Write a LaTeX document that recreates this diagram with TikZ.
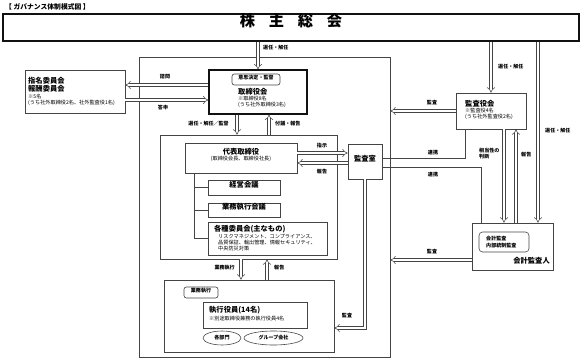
\documentclass[tikz,border=0pt]{standalone}
\usepackage{fontspec}
\setmainfont{Noto Sans CJK JP}
\usetikzlibrary{positioning,arrows.meta,fit,shapes.geometric}
\definecolor{Tinta}{HTML}{444444}
\definecolor{Marco}{HTML}{111111}
\newcommand{\letragrande}{\fontsize{6.2}{7.2}\selectfont\bfseries}
\newcommand{\letrachica}{\fontsize{4.4}{5.3}\selectfont}
\tikzset{
  caja/.style={draw=Tinta,line width=0.5pt,inner sep=0pt},
  flecha/.style={draw=Tinta,line width=0.45pt,double=white,double distance=2pt,-{Implies}},
  linea/.style={draw=Tinta,line width=0.5pt},
  rotulo/.style={font=\fontsize{4.3}{5.3}\selectfont\bfseries,inner sep=0pt},
  titulo/.style={font=\letragrande,inner sep=0pt},
  nota/.style={font=\letrachica,inner sep=0pt,align=left},
}
\begin{document}
\begin{tikzpicture}[x=0.03cm,y=-0.03cm]
  \useasboundingbox (0,0) rectangle (582,358);
  \node[rotulo,font=\fontsize{5.8}{7}\selectfont\bfseries,anchor=west] (cabecera) at (5,7) {【 ガバナンス体制模式図 】};
  \node[caja,draw=Marco,line width=1.1pt,fit={(3,14) (579,41)},
    font=\fontsize{13}{14}\selectfont\bfseries] (kabunushi) {株\hspace{0.9em}主\hspace{0.9em}総\hspace{0.9em}会};

  % area de gestion
  \node[caja,fit={(139,57) (390,357)}] (kanri) {};
  \node[caja,draw=Marco,line width=1pt,fit={(209,70) (307,114)}] (torishimari) {};
  \node[caja,rounded corners=2pt,fit={(232,74) (280,85)},rotulo] (ishi) {意思決定・監督};
  \node[titulo,anchor=west] at (238,92) {取締役会};
  \node[nota,anchor=north west] at (238,96) {※取締役8名\\(うち社外取締役3名)};

  \node[caja,fit={(160,135) (337,259)}] (daihyogrp) {};
  \node[caja,fit={(185,143) (297,173)},align=center,font=\letrachica] (daihyo) {{\letragrande 代表取締役}\\{\letrachica (取締役会長、取締役社長)}};
  \node[caja,fit={(208,180) (280,195)},titulo] (keiei) {経営会議};
  \node[caja,fit={(208,203) (280,217)},titulo] (gyomu) {業務執行会議};
  \node[caja,fit={(208,222) (327,255)}] (iinkai) {};
  \node[titulo,anchor=west] at (214,229) {各種委員会(主なもの)};
  \node[nota,anchor=north west] at (218,234) {リスクマネジメント、コンプライアンス、\\品質保証、輸出管理、情報セキュリティ、\\中央防災対策};
  \node[caja,fit={(348,144) (382,179)},titulo] (kansashitsu) {監査室};

  \node[caja,fit={(164,280) (334,352)}] (shikko) {};
  \node[caja,rounded corners=2pt,fit={(184,287) (218,298)},rotulo] (gyomutag) {業務執行};
  \node[caja,fit={(203,302) (307,328)}] (yakuin) {};
  \node[titulo,anchor=west] at (209,310) {執行役員(14名)};
  \node[nota,anchor=west] at (209,319) {※別途取締役兼務の執行役員4名};
  \node[caja,ellipse,minimum width=1.14cm,minimum height=0.42cm,rotulo] (bumon) at (222,338) {各部門};
  \node[caja,ellipse,minimum width=1.77cm,minimum height=0.42cm,rotulo] (group) at (273.5,338) {グループ会社};

  % comites y auditores
  \node[caja,fit={(25,70) (125,113)}] (shimei) {};
  \node[titulo,anchor=north west,align=left] at (28,77) {指名委員会\\報酬委員会};
  \node[nota,anchor=north west] at (28,94) {※5名\\(うち社外取締役2名、社外監査役1名)};
  \node[caja,fit={(456,93) (526,129)}] (kansayaku) {};
  \node[titulo,anchor=west] at (465,104) {監査役会};
  \node[nota,anchor=north west] at (465,108) {※監査役4名\\(うち社外監査役2名)};
  \node[caja,fit={(472,223) (553,270)}] (kaikei) {};
  \node[caja,rounded corners=3pt,fit={(479,232) (529,252)}] (kaikeinaiyo) {};
  \node[rotulo,anchor=west,align=left] at (486,242) {会計監査\\内部統制監査};
  \node[titulo,anchor=east] at (550,261) {会計監査人};

  % arbol del representante
  \draw[linea] ([xshift=0.3cm]daihyo.south west) |- (keiei.west);
  \draw[linea] ([xshift=0.3cm]daihyo.south west) |- (gyomu.west);
  \draw[linea] ([xshift=0.3cm]daihyo.south west) |- (iinkai.west);

  % flechas
  \draw[flecha] (kabunushi.south -| torishimari.north) -- (torishimari.north);
  \node[rotulo,anchor=west] at (263,48) {選任・解任};
  \draw[flecha] ([yshift=0.21cm]torishimari.west) -- ([yshift=0.21cm]torishimari.west -| shimei.east);
  \node[rotulo] at (165,77) {諮問};
  \draw[flecha] ([yshift=-0.255cm]shimei.east) -- ([yshift=-0.255cm]shimei.east -| torishimari.west);
  \node[rotulo] at (163,108) {答申};
  \draw[flecha] ([xshift=-0.63cm]torishimari.south) -- ([xshift=-0.63cm]torishimari.south |- daihyogrp.north);
  \node[rotulo,anchor=east] at (229,124) {選任・解任／監督};
  \draw[flecha] ([xshift=0.33cm]torishimari.south |- daihyogrp.north) -- ([xshift=0.33cm]torishimari.south);
  \node[rotulo,anchor=west] at (275,124) {付議・報告};
  \draw[flecha] ([yshift=0.15cm]daihyo.east) -- ([yshift=0.15cm]daihyo.east -| kansashitsu.west);
  \node[rotulo] at (322,146) {指示};
  \draw[flecha] ([yshift=-0.15cm]daihyo.east -| kansashitsu.west) -- ([yshift=-0.15cm]daihyo.east);
  \node[rotulo] at (322,172) {報告};
  \draw[flecha] (kansashitsu.south) |- ([yshift=-0.36cm]shikko.east);
  \node[rotulo] at (347,316) {監査};
  \draw[flecha] ([xshift=-0.225cm]daihyogrp.south) -- ([xshift=-0.225cm]daihyogrp.south |- shikko.north);
  \node[rotulo,anchor=east] at (235,268) {業務執行};
  \draw[flecha] ([xshift=0.555cm]daihyogrp.south |- shikko.north) -- ([xshift=0.555cm]daihyogrp.south);
  \node[rotulo,anchor=west] at (274,268) {報告};

  \draw[flecha] (kabunushi.south -| kansayaku.north) -- (kansayaku.north);
  \node[rotulo,anchor=west] at (498,67) {選任・解任};
  \draw[flecha] (kansayaku.west) -- (kansayaku.west -| kanri.east);
  \node[rotulo] at (432,103) {監査};
  \draw[flecha] ([xshift=0.765cm]kaikei.north |- kabunushi.south) -- ([xshift=0.765cm]kaikei.north);
  \node[rotulo,anchor=west] at (545,131) {選任・解任};
  \draw[flecha] ([yshift=-0.405cm]kaikei.west) -- ([yshift=-0.405cm]kaikei.west -| kanri.east);
  \node[rotulo] at (432,252) {監査};
  \draw[flecha] ([xshift=0.39cm]kansayaku.south) -- ([xshift=0.39cm]kansayaku.south |- kaikei.north);
  \node[rotulo,anchor=north west,align=left] at (479,148) {相当性の\\判断};
  \draw[flecha] ([xshift=0.75cm]kansayaku.south |- kaikei.north) -- ([xshift=0.75cm]kansayaku.south);
  \node[rotulo,anchor=west] at (521,155) {報告};

  % lineas de enlace
  \draw[linea] ([yshift=0.105cm]kansashitsu.east) -| ([xshift=0.3cm]kansayaku.south west);
  \node[rotulo] at (433,153) {連携};
  \draw[linea] ([yshift=-0.165cm]kansashitsu.east) -| ([xshift=0.3cm]kaikei.north west);
  \node[rotulo] at (433,175) {連携};
\end{tikzpicture}
\end{document}
